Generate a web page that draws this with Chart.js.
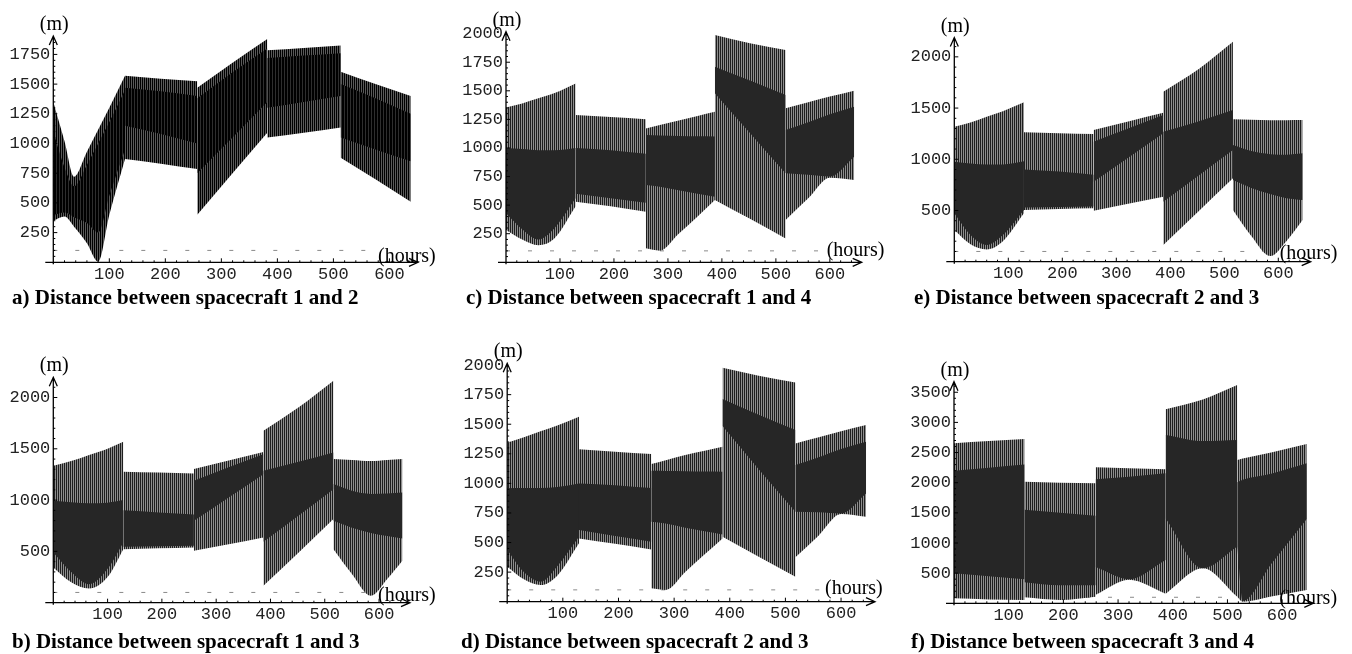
<!DOCTYPE html>
<html>
<head>
<meta charset="utf-8">
<script src="https://cdn.jsdelivr.net/npm/chart.js@4.4.1/dist/chart.umd.min.js"></script>
<style>
  body { margin: 0; background: #fff; width: 1352px; height: 654px; overflow: hidden; position: relative; }
  canvas { position: absolute; }
  .cap { position: absolute; font: bold 21px "Liberation Serif", "Times New Roman", serif; color: #000; white-space: nowrap; line-height: 21px; }
</style>
</head>
<body>
<canvas id="pa"></canvas>
<canvas id="pc"></canvas>
<canvas id="pe"></canvas>
<canvas id="pb"></canvas>
<canvas id="pd"></canvas>
<canvas id="pf"></canvas>
<div class="cap" style="left:12px; top:287px;">a) Distance between spacecraft 1 and 2</div>
<div class="cap" style="left:466px; top:287px;">c) Distance between spacecraft 1 and 4</div>
<div class="cap" style="left:914px; top:287px;">e) Distance between spacecraft 2 and 3</div>
<div class="cap" style="left:12px; top:631px;">b) Distance between spacecraft 1 and 3</div>
<div class="cap" style="left:461px; top:631px;">d) Distance between spacecraft 2 and 3</div>
<div class="cap" style="left:911px; top:631px;">f) Distance between spacecraft 3 and 4</div>
<script>
// envelopes of the oscillating distance, one sub-array per manoeuvre segment (hours / metres)
// a) spacecraft 1 and 2
const hoursA = [[0, 20, 37, 60, 80, 100, 128], [128, 192, 257], [257, 320, 382], [382, 447, 513], [513, 575, 638]];
const upperA = [[1350, 1020, 720, 930, 1115, 1300, 1570], [1570, 1545, 1525], [1470, 1680, 1880], [1785, 1805, 1825], [1605, 1500, 1400]];
const lowerA = [[350, 385, 300, 160, 5, 400, 870], [870, 830, 785], [400, 750, 1090], [1050, 1090, 1135], [880, 700, 510]];
const coreHiA = [[1100, 800, 640, 820, 1000, 1180, 1450], [1470, 1440, 1400], [1380, 1600, 1800], [1720, 1740, 1760], [1500, 1380, 1250]];
const coreLoA = [[400, 420, 380, 330, 250, 560, 950], [1150, 1080, 1000], [750, 1050, 1350], [1300, 1350, 1400], [1050, 950, 850]];

// b) spacecraft 1 and 3
const hoursB = [[0, 33, 66, 100, 129], [129, 194, 259], [259, 323, 387], [387, 452, 516], [516, 550, 585, 615, 643]];
const upperB = [[1334, 1380, 1440, 1500, 1568], [1276, 1268, 1260], [1302, 1385, 1470], [1676, 1905, 2164], [1400, 1390, 1380, 1390, 1400]];
const lowerB = [[344, 200, 139, 250, 522], [522, 530, 539], [506, 570, 636], [165, 490, 815], [522, 280, 67, 230, 408]];
const coreHiB = [[993, 980, 970, 975, 1000], [900, 880, 860], [1189, 1320, 1448], [1286, 1375, 1465], [1156, 1090, 1060, 1065, 1075]];
const coreLoB = [[490, 300, 181, 330, 587], [545, 550, 555], [798, 1025, 1253], [594, 850, 1107], [798, 730, 680, 650, 626]];

// c) spacecraft 1 and 4
const hoursC = [[0, 30, 60, 90, 129], [129, 194, 259], [259, 285, 320, 355, 387], [387, 452, 518], [518, 560, 600, 645]];
const upperC = [[1355, 1390, 1434, 1480, 1565], [1289, 1270, 1251], [1171, 1200, 1240, 1280, 1317], [1989, 1915, 1857], [1347, 1400, 1450, 1501]];
const lowerC = [[283, 200, 150, 210, 490], [530, 490, 443], [122, 102, 250, 400, 545], [545, 380, 209], [370, 560, 740, 720]];
const coreHiC = [[1000, 990, 980, 980, 1000], [1000, 980, 950], [1113, 1110, 1105, 1102, 1100], [1711, 1590, 1463], [1157, 1225, 1295, 1361]];
const coreLoC = [[430, 290, 200, 300, 560], [600, 560, 520], [676, 660, 630, 600, 574], [1478, 1130, 778], [778, 765, 750, 924]];

// d) spacecraft 2 and 3
const hoursD = [[0, 30, 60, 90, 129], [129, 194, 259], [259, 285, 320, 355, 387], [387, 452, 518], [518, 560, 600, 645]];
const upperD = [[1344, 1390, 1440, 1490, 1563], [1289, 1268, 1248], [1163, 1195, 1240, 1275, 1310], [1977, 1910, 1853], [1338, 1390, 1440, 1493]];
const lowerD = [[296, 190, 141, 220, 493], [535, 490, 442], [113, 99, 250, 400, 535], [549, 380, 211], [375, 560, 741, 718]];
const coreHiD = [[958, 960, 960, 970, 1000], [1000, 985, 960], [1107, 1105, 1103, 1100, 1099], [1713, 1580, 1451], [1155, 1220, 1290, 1352]];
const coreLoD = [[437, 250, 169, 300, 549], [606, 555, 507], [676, 660, 625, 595, 569], [1484, 1120, 761], [761, 755, 746, 915]];

// e) spacecraft 2 and 3
const hoursE = [[0, 30, 60, 90, 129], [129, 194, 258], [258, 322, 387], [387, 452, 516], [516, 550, 585, 615, 645]];
const upperE = [[1318, 1360, 1416, 1470, 1556], [1263, 1255, 1247], [1286, 1370, 1455], [1660, 1880, 2148], [1390, 1385, 1380, 1382, 1383]];
const lowerE = [[309, 170, 120, 200, 472], [505, 515, 521], [498, 565, 635], [163, 490, 814], [505, 250, 55, 200, 407]];
const coreHiE = [[977, 960, 950, 950, 980], [900, 880, 850], [1172, 1300, 1432], [1269, 1370, 1481], [1139, 1080, 1050, 1045, 1058]];
const coreLoE = [[472, 260, 163, 260, 505], [530, 535, 540], [781, 1015, 1253], [586, 840, 1090], [797, 720, 660, 620, 602]];

// f) spacecraft 3 and 4
const hoursF = [[0, 64, 129], [129, 194, 259], [259, 320, 387], [387, 455, 518], [518, 528, 580, 645]];
const upperF = [[2653, 2690, 2725], [2017, 2000, 1990], [2255, 2240, 2222], [3217, 3380, 3620], [2377, 2400, 2500, 2642]];
const lowerF = [[82, 65, 55], [99, 55, 110], [140, 390, 160], [160, 580, 110], [110, 27, 113, 220]];
const coreHiF = [[2200, 2250, 2300], [1550, 1500, 1450], [2056, 2100, 2156], [2791, 2690, 2709], [2006, 2050, 2150, 2321]];
const coreLoF = [[500, 450, 400], [350, 300, 300], [600, 400, 720], [1408, 580, 940], [940, 40, 650, 1400]];

// 100 m safety distance (dashed)
const limitHours = [0, 585];
const limitLevel = [100, 100];

// tick labels
const hourTicks = [100, 200, 300, 400, 500, 600];
const ticks250 = [250, 500, 750, 1000, 1250, 1500, 1750];
const ticks250to2000 = [250, 500, 750, 1000, 1250, 1500, 1750, 2000];
const ticks500to2000 = [500, 1000, 1500, 2000];
const ticks500to3500 = [500, 1000, 1500, 2000, 2500, 3000, 3500];

function stripes(cols) {
    const c = document.createElement('canvas');
    c.width = cols.length; c.height = 1;
    const g = c.getContext('2d');
    cols.forEach((col, i) => { g.fillStyle = col; g.fillRect(i, 0, 1, 1); });
    return g.createPattern(c, 'repeat');
}

const hatch = stripes(['#1e1e1e', '#8e8e8e']);
const core = '#262626';
const hatchDark = stripes(['#000000', '#5a5a5a']);
const coreDark = stripes(['#000000', '#000000', '#2e2e2e']);

function band(hours, hi, lo, bg, order) {
    const out = [];
    hours.forEach((hs, s) => {
        out.push({ data: hs.map((h, i) => ({ x: h, y: hi[s][i] })), fill: '+1', backgroundColor: bg, order: order });
        out.push({ data: hs.map((h, i) => ({ x: h, y: lo[s][i] })), fill: false, order: order });
    });
    return out;
}

const axesPlugin = {
    id: 'axes',
    afterDraw(chart, args, o) {
        const { ctx, scales: { x, y } } = chart;
        const x0 = x.getPixelForValue(0), y0 = y.getPixelForValue(0);
        const xr = x.right, yt = y.top;
        ctx.save();
        ctx.strokeStyle = '#000';
        ctx.lineWidth = 1.3;
        ctx.beginPath();
        ctx.moveTo(x0 - 8, y0); ctx.lineTo(xr, y0);
        ctx.moveTo(xr - 9, y0 - 4); ctx.lineTo(xr, y0); ctx.lineTo(xr - 9, y0 + 4);
        ctx.moveTo(x0, y0 + 2); ctx.lineTo(x0, yt);
        ctx.moveTo(x0 - 4, yt + 9); ctx.lineTo(x0, yt); ctx.lineTo(x0 + 4, yt + 9);
        ctx.stroke();

        ctx.lineWidth = 1;
        ctx.beginPath();
        for (let h = 20; h <= 640; h += 20) {
            const px = x.getPixelForValue(h);
            const len = h % 100 === 0 ? 4 : 2;
            ctx.moveTo(px, y0); ctx.lineTo(px, y0 - len);
        }
        for (let v = o.yMinor; v < y.max - o.yMinor / 2; v += o.yMinor) {
            const py = y.getPixelForValue(v);
            const len = v % o.yStep === 0 ? 4 : 2;
            ctx.moveTo(x0, py); ctx.lineTo(x0 + len, py);
        }
        ctx.stroke();

        ctx.fillStyle = '#000';
        ctx.font = '20px "Liberation Serif", serif';
        ctx.textBaseline = 'alphabetic';
        ctx.textAlign = 'center';
        ctx.fillText('(m)', x0 + 1, yt - 6);
        ctx.textAlign = 'left';
        ctx.fillText('(hours)', xr - o.hoursBack, y0 + o.hoursDrop);
        ctx.restore();
    }
};

const tickFont = { family: '"Liberation Mono", "DejaVu Sans Mono", monospace', size: 17 };

function panel(id, lay, yTicks, hours, hi, lo, cHi, cLo, outerFill, coreFill) {
    const [bl, bt, bw, bh] = lay.box;
    const [al, at, ar, ab] = lay.area;
    const cv = document.getElementById(id);
    cv.width = bw; cv.height = bh;
    cv.style.left = bl + 'px'; cv.style.top = bt + 'px';
    cv.style.width = bw + 'px'; cv.style.height = bh + 'px';

    const sets = []
        .concat(band(hours, cHi, cLo, coreFill, 1))
        .concat(band(hours, hi, lo, outerFill, 2));
    sets.push({
        data: limitHours.map((h, i) => ({ x: h, y: limitLevel[i] })),
        borderColor: '#8a8a8a', borderWidth: 1, borderDash: [4, 18], fill: false, order: 3
    });

    new Chart(cv, {
        type: 'line',
        data: { datasets: sets },
        options: {
            responsive: false,
            animation: false,
            devicePixelRatio: 1,
            layout: { padding: { left: 0, top: at - bt, right: bl + bw - ar, bottom: 0 } },
            elements: {
                point: { radius: 0 },
                line: { borderWidth: 0, borderColor: 'rgba(0,0,0,0)', cubicInterpolationMode: 'monotone' }
            },
            plugins: {
                legend: { display: false },
                tooltip: { enabled: false },
                axes: { yStep: lay.yStep, yMinor: lay.yMinor, hoursBack: lay.hoursBack, hoursDrop: lay.hoursDrop }
            },
            scales: {
                x: {
                    type: 'linear', min: 0, max: lay.xMax,
                    border: { display: false },
                    grid: { display: false, drawTicks: false },
                    ticks: { autoSkip: false, maxRotation: 0, padding: 2, color: '#222', font: tickFont, callback: v => String(v) },
                    afterBuildTicks: s => { s.ticks = hourTicks.map(v => ({ value: v })); },
                    afterFit: s => { s.height = bt + bh - ab; }
                },
                y: {
                    type: 'linear', min: 0, max: lay.yMax,
                    border: { display: false },
                    grid: { display: false, drawTicks: false },
                    ticks: { autoSkip: false, padding: 3, color: '#222', font: tickFont, callback: v => String(v) },
                    afterBuildTicks: s => { s.ticks = yTicks.map(v => ({ value: v })); },
                    afterFit: s => { s.width = al - bl; }
                }
            }
        },
        plugins: [axesPlugin]
    });
}

const layA = { box: [0, 0, 440, 286], area: [53.3, 36, 418, 262.3], xMax: 651, yMax: 1905, yStep: 250, yMinor: 50, hoursBack: 40, hoursDrop: 0 };
const layC = { box: [440, 0, 450, 286], area: [506, 31.7, 861.7, 262.3], xMax: 659, yMax: 2017, yStep: 250, yMinor: 50, hoursBack: 35, hoursDrop: -6 };
const layE = { box: [890, 0, 462, 286], area: [954.3, 37.5, 1310.7, 261.7], xMax: 660, yMax: 2189, yStep: 500, yMinor: 100, hoursBack: 31, hoursDrop: -3 };
const layB = { box: [0, 330, 440, 300], area: [53.3, 377.3, 410, 602.7], xMax: 657, yMax: 2197, yStep: 500, yMinor: 100, hoursBack: 32, hoursDrop: -2 };
const layD = { box: [440, 330, 450, 300], area: [507.2, 363.3, 875, 601.7], xMax: 661, yMax: 2015, yStep: 250, yMinor: 50, hoursBack: 50, hoursDrop: -8 };
const layF = { box: [890, 330, 462, 300], area: [954, 381.7, 1313.3, 603.3], xMax: 657, yMax: 3675, yStep: 500, yMinor: 100, hoursBack: 34, hoursDrop: 1 };

panel('pa', layA, ticks250, hoursA, upperA, lowerA, coreHiA, coreLoA, hatchDark, coreDark);
panel('pc', layC, ticks250to2000, hoursC, upperC, lowerC, coreHiC, coreLoC, hatch, core);
panel('pe', layE, ticks500to2000, hoursE, upperE, lowerE, coreHiE, coreLoE, hatch, core);
panel('pb', layB, ticks500to2000, hoursB, upperB, lowerB, coreHiB, coreLoB, hatch, core);
panel('pd', layD, ticks250to2000, hoursD, upperD, lowerD, coreHiD, coreLoD, hatch, core);
panel('pf', layF, ticks500to3500, hoursF, upperF, lowerF, coreHiF, coreLoF, hatch, core);
</script>
</body>
</html>
